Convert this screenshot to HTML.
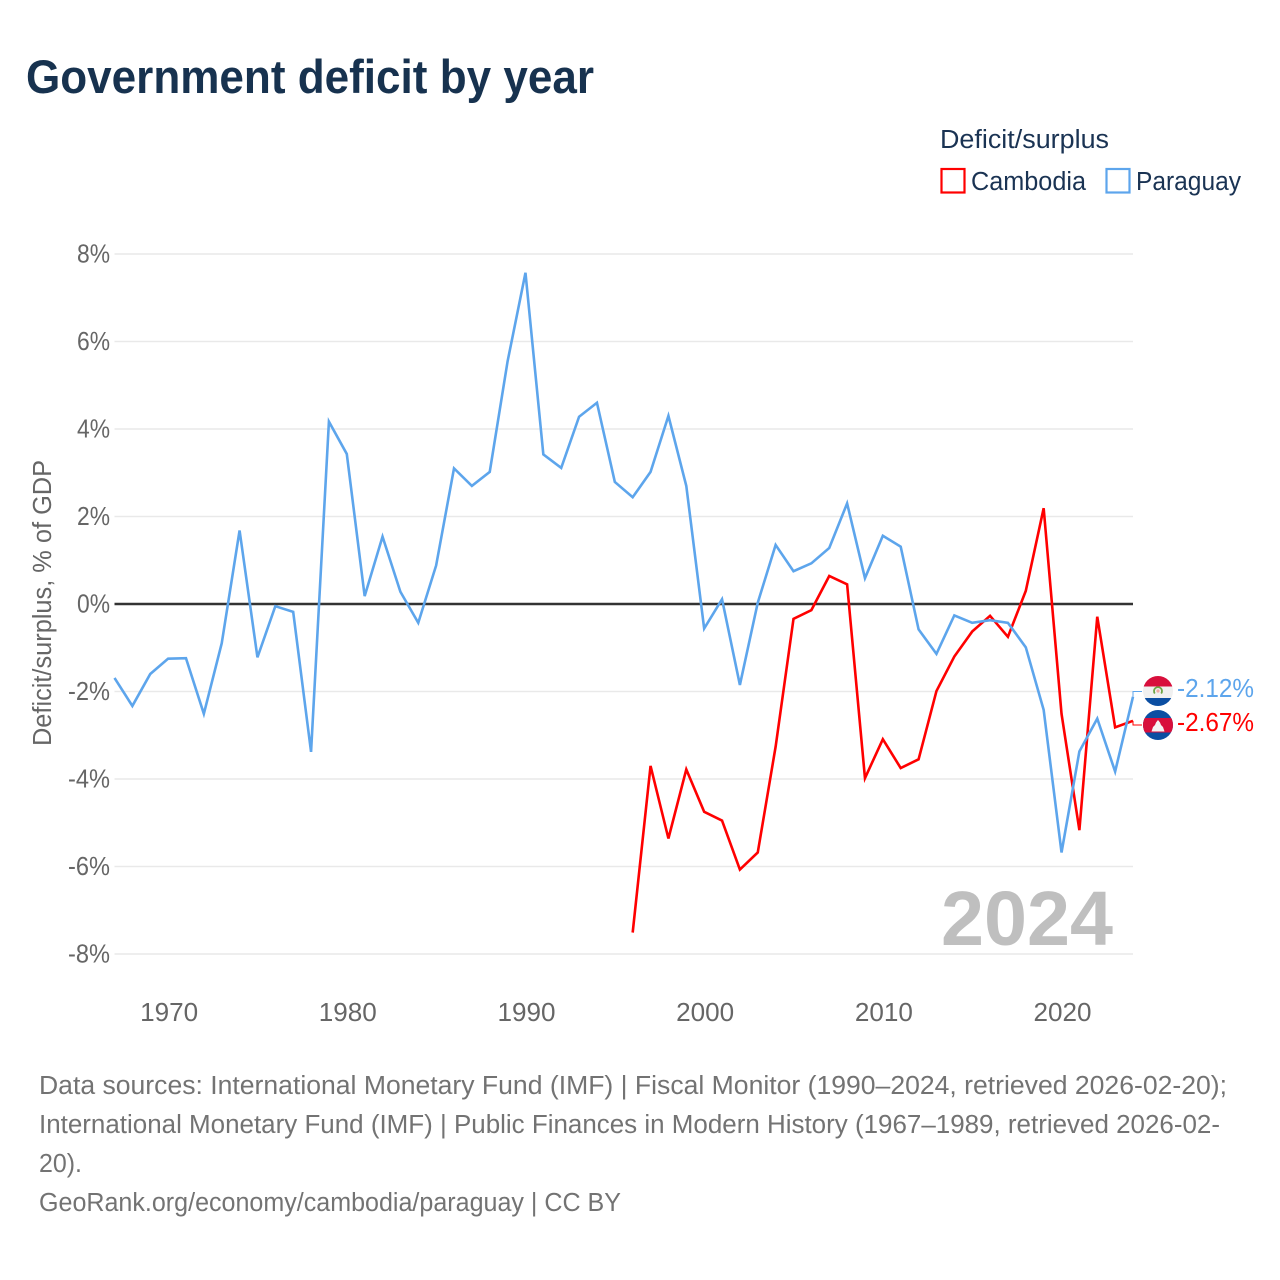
<!DOCTYPE html>
<html lang="en">
<head>
<meta charset="utf-8">
<title>Government deficit by year</title>
<style>
html,body{margin:0;padding:0;background:#fff;}
svg{display:block;font-family:"Liberation Sans",sans-serif;}
</style>
</head>
<body>
<svg id="chart" width="1280" height="1280" viewBox="0 0 1280 1280" xmlns="http://www.w3.org/2000/svg">
  <rect width="1280" height="1280" fill="#fff"/>
  <text x="26" y="93" font-size="47" font-weight="700" fill="#17324f" textLength="568" lengthAdjust="spacingAndGlyphs">Government deficit by year</text>

  <g>
    <text x="940" y="148" font-size="25.5" fill="#1a3353" textLength="169" lengthAdjust="spacingAndGlyphs">Deficit/surplus</text>
    <rect x="941.5" y="169" width="23" height="23.5" fill="#fff" stroke="#ff0000" stroke-width="2.2"/>
    <text x="971" y="190" font-size="25.5" fill="#1a3353" textLength="115" lengthAdjust="spacingAndGlyphs">Cambodia</text>
    <rect x="1106.5" y="169" width="23" height="23.5" fill="#fff" stroke="#5da5ec" stroke-width="2.2"/>
    <text x="1136" y="190" font-size="25.5" fill="#1a3353" textLength="105" lengthAdjust="spacingAndGlyphs">Paraguay</text>
  </g>

  <g id="grid"></g>
  <g id="yticks"></g>
  <g id="xticks"></g>
  <text transform="translate(51,603) rotate(-90)" text-anchor="middle" font-size="25.5" fill="#666" textLength="286" lengthAdjust="spacingAndGlyphs">Deficit/surplus, % of GDP</text>
  <text x="941" y="945" font-size="77" font-weight="700" fill="#bfbfbf" textLength="172" lengthAdjust="spacingAndGlyphs">2024</text>
  <g id="series"></g>

  <g>
    <clipPath id="clip-py"><circle cx="1158" cy="691" r="15"/></clipPath>
    <g clip-path="url(#clip-py)">
      <rect x="1143" y="676" width="30" height="10.5" fill="#d80f3c"/>
      <rect x="1143" y="686.500" width="30" height="11.500" fill="#f0f0f0"/>
      <rect x="1143" y="698" width="30" height="8" fill="#0b4ea2"/>
      <path d="M1161.2 688.500 A4 4 0 1 1 1154.800 688.500" transform="rotate(180 1158 691)" fill="none" stroke="#6da544" stroke-width="1.8"/>
      <circle cx="1158" cy="691" r="1.6" fill="#f0a8a0"/>
    </g>
  </g>
  <g>
    <clipPath id="clip-kh"><circle cx="1158" cy="725" r="15"/></clipPath>
    <g clip-path="url(#clip-kh)">
      <rect x="1143" y="710" width="30" height="31" fill="#0b4ea2"/>
      <rect x="1143" y="718" width="30" height="14.500" fill="#d80f3c"/>
      <path d="M1151.500 731.500 L1153 727 L1155 725 L1156 722.500 L1158 720 L1160 722.500 L1161 725 L1163 727 L1164.500 731.500 Z" fill="#f4f4f4"/>
    </g>
  </g>
  <text id="label-paraguay" x="1177" y="697" font-size="25.5" fill="#5da5ec" textLength="77" lengthAdjust="spacingAndGlyphs"></text>
  <text id="label-cambodia" x="1177" y="731" font-size="25.5" fill="#ff0000" textLength="77" lengthAdjust="spacingAndGlyphs"></text>

  <g font-size="25.5" fill="#737373">
    <text x="39" y="1094" textLength="1188" lengthAdjust="spacingAndGlyphs">Data sources: International Monetary Fund (IMF) | Fiscal Monitor (1990–2024, retrieved 2026-02-20);</text>
    <text x="39" y="1133" textLength="1181" lengthAdjust="spacingAndGlyphs">International Monetary Fund (IMF) | Public Finances in Modern History (1967–1989, retrieved 2026-02-</text>
    <text x="39" y="1172" textLength="43" lengthAdjust="spacingAndGlyphs">20).</text>
    <text x="39" y="1211" textLength="582" lengthAdjust="spacingAndGlyphs">GeoRank.org/economy/cambodia/paraguay | CC BY</text>
  </g>
</svg>
<script>
const paraguayStart = 1967;
const paraguayValues = [-1.69,-2.33,-1.6,-1.25,-1.24,-2.51,-0.9,1.68,-1.22,-0.05,-0.18,-3.38,4.17,3.43,0.18,1.54,0.28,-0.43,0.88,3.1,2.7,3.02,5.55,7.57,3.42,3.11,4.28,4.6,2.79,2.44,3.02,4.3,2.7,-0.56,0.11,-1.85,0.03,1.35,0.75,0.93,1.28,2.3,0.59,1.56,1.31,-0.58,-1.14,-0.26,-0.43,-0.37,-0.43,-0.99,-2.42,-5.68,-3.37,-2.62,-3.83,-2.12];
const cambodiaStart = 1996;
const cambodiaValues = [-7.51,-3.7,-5.36,-3.78,-4.75,-4.95,-6.07,-5.68,-3.26,-0.34,-0.14,0.64,0.45,-3.98,-3.09,-3.75,-3.55,-1.99,-1.2,-0.63,-0.27,-0.75,0.3,2.19,-2.51,-5.17,-0.29,-2.82,-2.67];
const yTicks = [8,6,4,2,0,-2,-4,-6,-8];
const yTickLabels = ['8%','6%','4%','2%','0%','-2%','-4%','-6%','-8%'];
const xTicks = [1970,1980,1990,2000,2010,2020];
const xTickLabels = ['1970','1980','1990','2000','2010','2020'];
const paraguayLabel = '-2.12%';
const cambodiaLabel = '-2.67%';

const NS = 'http://www.w3.org/2000/svg';
const xScale = year => 114.5 + (year - 1967) * (1133 - 114.5) / 57;
const yScale = value => 604 - value * 43.75;

const gridGroup = document.getElementById('grid');
const yTickGroup = document.getElementById('yticks');
const xTickGroup = document.getElementById('xticks');
const seriesGroup = document.getElementById('series');

yTicks.forEach((tick, i) => {
  const line = document.createElementNS(NS, 'line');
  
  
  line.setAttribute('x1', 114.5);
  line.setAttribute('x2', 1133);
  line.setAttribute('y1', yScale(tick));
  line.setAttribute('y2', yScale(tick));
  line.setAttribute('stroke', '#e9e9e9');
  line.setAttribute('stroke-width', 1.4);
  gridGroup.appendChild(line);

  const label = document.createElementNS(NS, 'text');
  
  
  label.setAttribute('x', 110);
  label.setAttribute('y', yScale(tick) + 8.500);
  label.setAttribute('text-anchor', 'end');
  label.setAttribute('font-size', 25.5);
  label.setAttribute('fill', '#666');
  label.setAttribute('textLength', yTickLabels[i].startsWith('-') ? 42 : 33);
  label.setAttribute('lengthAdjust', 'spacingAndGlyphs');
  label.textContent = yTickLabels[i];
  yTickGroup.appendChild(label);
});

xTicks.forEach((tick, i) => {
  const label = document.createElementNS(NS, 'text');
  
  
  label.setAttribute('x', xScale(tick) + 1);
  label.setAttribute('y', 1021);
  label.setAttribute('text-anchor', 'middle');
  label.setAttribute('font-size', 25.5);
  label.setAttribute('fill', '#666');
  label.setAttribute('textLength', 58);
  label.setAttribute('lengthAdjust', 'spacingAndGlyphs');
  label.textContent = xTickLabels[i];
  xTickGroup.appendChild(label);
});

const zeroLine = document.createElementNS(NS, 'line');


zeroLine.setAttribute('x1', 114.5);
zeroLine.setAttribute('x2', 1133);
zeroLine.setAttribute('y1', yScale(0));
zeroLine.setAttribute('y2', yScale(0));
zeroLine.setAttribute('stroke', '#333');
zeroLine.setAttribute('stroke-width', 2.6);
seriesGroup.appendChild(zeroLine);

function seriesPoints(start, values) {
  return values.map((v, i) => xScale(start + i).toFixed(2) + ',' + yScale(v).toFixed(2)).join(' ');
}

const redLine = document.createElementNS(NS, 'polyline');


redLine.setAttribute('points', seriesPoints(cambodiaStart, cambodiaValues));
redLine.setAttribute('fill', 'none');
redLine.setAttribute('stroke', '#ff0000');
redLine.setAttribute('stroke-width', 2.6);
seriesGroup.appendChild(redLine);

const blueLine = document.createElementNS(NS, 'polyline');


blueLine.setAttribute('points', seriesPoints(paraguayStart, paraguayValues));
blueLine.setAttribute('fill', 'none');
blueLine.setAttribute('stroke', '#5da5ec');
blueLine.setAttribute('stroke-width', 2.6);
seriesGroup.appendChild(blueLine);

const blueLeader = document.createElementNS(NS, 'polyline');


blueLeader.setAttribute('points', '1133,' + yScale(paraguayValues[paraguayValues.length - 1]) + ' 1133,691.500 1142,691.500');
blueLeader.setAttribute('fill', 'none');
blueLeader.setAttribute('stroke', '#5da5ec');
blueLeader.setAttribute('stroke-width', 1);
seriesGroup.appendChild(blueLeader);

const redLeader = document.createElementNS(NS, 'polyline');


redLeader.setAttribute('points', '1133,' + yScale(cambodiaValues[cambodiaValues.length - 1]) + ' 1133,725 1142,725');
redLeader.setAttribute('fill', 'none');
redLeader.setAttribute('stroke', '#ff0000');
redLeader.setAttribute('stroke-width', 1);
seriesGroup.appendChild(redLeader);

document.getElementById('label-paraguay').textContent = paraguayLabel;
document.getElementById('label-cambodia').textContent = cambodiaLabel;
</script>
</body>
</html>
